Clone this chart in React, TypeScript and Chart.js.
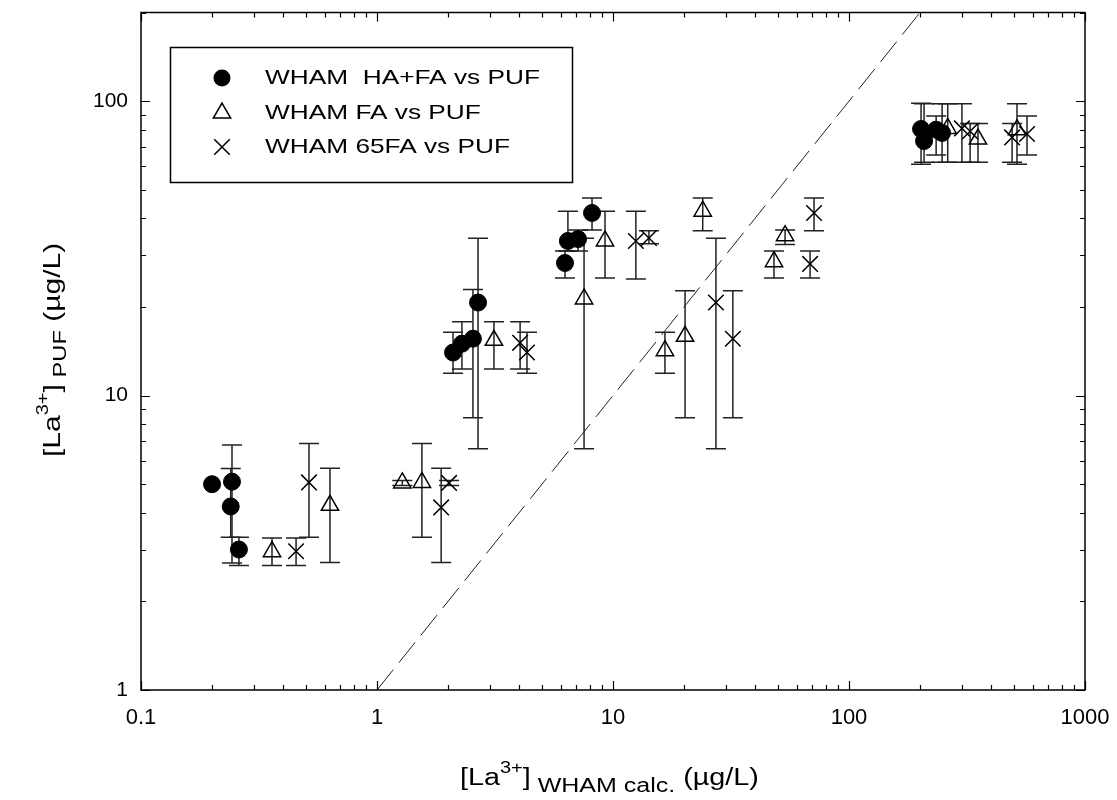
import React, { useEffect, useRef } from "react";
import { Chart, registerables } from "chart.js";

Chart.register(...registerables);

// ---------- data ----------
// WHAM HA+FA vs PUF (filled circles)
const haFaX = [0.2, 0.243, 0.24, 0.26, 2.1, 2.29, 2.55, 2.68, 6.26, 6.44, 7.11, 8.15, 202, 208, 234, 248];
const haFaY = [5.0, 5.1, 4.2, 3.0, 14.0, 15.0, 15.6, 20.7, 28.2, 33.5, 34.0, 41.7, 80.4, 73.2, 80, 78];
const haFaLow = [null, 2.7, 3.3, 2.65, 11.9, 12.3, 8.4, 6.6, 25.1, 31, 31, 36.5, 61, 62, 65.6, 62];
const haFaHigh = [null, 6.8, 5.65, 3.3, 16.4, 17.8, 22.9, 34.2, 31.0, 42.3, 36.5, 46.9, 98.4, 98, 89, 98];

// WHAM FA vs PUF (open triangles)
const faX = [0.359, 0.632, 1.28, 1.55, 3.13, 7.54, 9.25, 16.6, 20.2, 24.0, 48.1, 53.6, 262, 352, 515];
const faY = [2.95, 4.24, 5.05, 5.07, 15.4, 21.3, 33.5, 14.2, 15.9, 42.3, 28.5, 34.9, 80.8, 74.3, 80];
const faLow = [2.65, 2.71, 4.95, 3.3, 12.3, 6.6, 25.1, 11.9, 8.4, 36.3, 25.1, 32.6, 62, 62, 61];
const faHigh = [3.28, 5.66, 5.15, 6.88, 17.8, 34.2, 42.3, 16.4, 22.7, 46.9, 31, 36.5, 98, 84, 98];

// WHAM 65FA vs PUF (crosses)
const fa65X = [0.454, 0.515, 1.87, 2.02, 4.04, 4.32, 12.5, 14.2, 27.3, 32.2, 68.4, 71.1, 301, 326, 491, 568];
const fa65Y = [2.96, 5.07, 4.17, 5.05, 15.1, 14.0, 33.5, 34.3, 20.7, 15.6, 28.0, 41.7, 80.8, 79, 75.3, 77.3];
const fa65Low = [2.65, 3.3, 2.71, 4.95, 12.3, 11.9, 24.9, 32.8, 6.6, 8.4, 25.1, 36.3, 62, 62, 62, 65.6];
const fa65High = [3.28, 6.88, 5.66, 5.15, 17.8, 16.4, 42.3, 36.3, 34.2, 22.7, 31, 46.9, 98, 84, 84, 89];

// 1:1 line
const oneToOneX = [1, 200];
const oneToOneY = [1, 200];

const xTickLabels = [0.1, 1, 10, 100, 1000];
const yTickLabels = [1, 10, 100];
const seriesNames = ["WHAM  HA+FA vs PUF", "WHAM FA vs PUF", "WHAM 65FA vs PUF"];

// ---------- helpers ----------
const FONT = '"Liberation Sans", Arial, sans-serif';
const toPts = (xs: number[], ys: number[]) => xs.map((x, i) => ({ x, y: ys[i] }));

type Part = { t: string; size: number; dy: number };

// draws a run of text pieces with a horizontal stretch factor sx
function drawRich(ctx: CanvasRenderingContext2D, parts: Part[], x: number, y: number, sx: number) {
  ctx.save();
  ctx.translate(x, y);
  ctx.scale(sx, 1);
  let cx = 0;
  for (const p of parts) {
    ctx.font = `${p.size}px ${FONT}`;
    ctx.fillText(p.t, cx, p.dy);
    cx += ctx.measureText(p.t).width;
  }
  ctx.restore();
}

function drawMarker(ctx: CanvasRenderingContext2D, style: string, x: number, y: number) {
  ctx.save();
  ctx.strokeStyle = "#000";
  ctx.fillStyle = "#000";
  ctx.lineWidth = 1.5;
  ctx.beginPath();
  if (style === "circle") {
    ctx.arc(x, y, 8.5, 0, Math.PI * 2);
    ctx.fill();
  } else if (style === "triangle") {
    const r = 10;
    ctx.moveTo(x, y - r);
    ctx.lineTo(x + r * Math.sin((2 * Math.PI) / 3), y + r / 2);
    ctx.lineTo(x - r * Math.sin((2 * Math.PI) / 3), y + r / 2);
    ctx.closePath();
    ctx.stroke();
  } else {
    const d = 11 * Math.SQRT1_2;
    ctx.moveTo(x - d, y - d);
    ctx.lineTo(x + d, y + d);
    ctx.moveTo(x + d, y - d);
    ctx.lineTo(x - d, y + d);
    ctx.stroke();
  }
  ctx.restore();
}

const errorSets = [
  { xs: haFaX, lo: haFaLow, hi: haFaHigh },
  { xs: faX, lo: faLow, hi: faHigh },
  { xs: fa65X, lo: fa65Low, hi: fa65High },
];

const errorBarPlugin = {
  id: "errorBars",
  beforeDatasetsDraw(chart: any) {
    const { ctx, scales } = chart;
    const xs = scales.x;
    const ys = scales.y;
    ctx.save();
    ctx.strokeStyle = "#222";
    ctx.lineWidth = 1.5;
    const cap = 10;
    for (const s of errorSets) {
      s.xs.forEach((xv, i) => {
        const lo = s.lo[i];
        const hi = s.hi[i];
        if (lo == null || hi == null) return;
        const px = xs.getPixelForValue(xv);
        const pLo = ys.getPixelForValue(lo);
        const pHi = ys.getPixelForValue(hi);
        ctx.beginPath();
        ctx.moveTo(px, pLo);
        ctx.lineTo(px, pHi);
        ctx.moveTo(px - cap, pLo);
        ctx.lineTo(px + cap, pLo);
        ctx.moveTo(px - cap, pHi);
        ctx.lineTo(px + cap, pHi);
        ctx.stroke();
      });
    }
    ctx.restore();
  },
};

const frameTicksPlugin = {
  id: "frameTicks",
  afterDraw(chart: any) {
    const { ctx, chartArea, scales } = chart;
    const { left, right, top, bottom } = chartArea;
    const xs = scales.x;
    const ys = scales.y;
    ctx.save();
    ctx.strokeStyle = "#000";
    ctx.lineWidth = 1.5;
    ctx.strokeRect(left, top, right - left, bottom - top);
    ctx.lineWidth = 1.2;
    ctx.beginPath();
    for (let e = -1; e <= 3; e++) {
      for (let m = 1; m <= 9; m++) {
        const v = m * Math.pow(10, e);
        if (v < 0.1 - 1e-9 || v > 1000 + 1e-9) continue;
        const px = Math.round(xs.getPixelForValue(v)) + 0.5;
        const len = m === 1 ? 9 : 5;
        ctx.moveTo(px, bottom);
        ctx.lineTo(px, bottom - len);
        ctx.moveTo(px, top);
        ctx.lineTo(px, top + len);
      }
    }
    for (let e = 0; e <= 2; e++) {
      for (let m = 1; m <= 9; m++) {
        const v = m * Math.pow(10, e);
        if (v > 200 + 1e-9) continue;
        const py = Math.round(ys.getPixelForValue(v)) + 0.5;
        const len = m === 1 ? 9 : 5;
        ctx.moveTo(left, py);
        ctx.lineTo(left + len, py);
        ctx.moveTo(right, py);
        ctx.lineTo(right - len, py);
      }
    }
    ctx.stroke();
    ctx.restore();
  },
};

const STRETCH = 1.25;

const titlesLegendPlugin = {
  id: "titlesLegend",
  afterDraw(chart: any) {
    const { ctx } = chart;
    ctx.save();
    ctx.fillStyle = "#000";
    ctx.textBaseline = "alphabetic";
    ctx.textAlign = "left";
    // x title
    drawRich(
      ctx,
      [
        { t: "[La", size: 23, dy: 0 },
        { t: "3+", size: 16, dy: -12 },
        { t: "]", size: 23, dy: 0 },
        { t: " WHAM calc.", size: 20, dy: 7 },
        { t: " (µg/L)", size: 23, dy: 0 },
      ],
      460,
      785,
      STRETCH
    );
    // y title (rotated)
    ctx.save();
    ctx.translate(60, 457);
    ctx.rotate(-Math.PI / 2);
    drawRich(
      ctx,
      [
        { t: "[La", size: 24, dy: 0 },
        { t: "3+", size: 16, dy: -12 },
        { t: "]", size: 24, dy: 0 },
        { t: " PUF", size: 19, dy: 6 },
        { t: " (µg/L)", size: 24, dy: 0 },
      ],
      0,
      0,
      STRETCH
    );
    ctx.restore();

    // legend
    ctx.strokeStyle = "#000";
    ctx.lineWidth = 1.5;
    ctx.strokeRect(170.5, 47.5, 402, 135);
    const styles = ["circle", "triangle", "cross"];
    const rows = [78, 113, 147];
    ctx.textBaseline = "middle";
    styles.forEach((st, i) => {
      drawMarker(ctx, st, 222, rows[i]);
      drawRich(ctx, [{ t: seriesNames[i], size: 21, dy: 0 }], 265, rows[i], 1.25);
    });
    ctx.restore();
  },
};

export default function App() {
  const canvasRef = useRef<HTMLCanvasElement | null>(null);

  useEffect(() => {
    if (!canvasRef.current) return;
    const chart = new Chart(canvasRef.current, {
      type: "scatter",
      data: {
        datasets: [
          {
            label: "1:1",
            data: toPts(oneToOneX, oneToOneY),
            showLine: true,
            borderColor: "#222",
            borderWidth: 1,
            borderDash: [26, 9],
            pointRadius: 0,
          },
          {
            label: seriesNames[0],
            data: toPts(haFaX, haFaY),
            pointStyle: "circle",
            pointRadius: 8.5,
            backgroundColor: "#000",
            borderColor: "#000",
            borderWidth: 1,
          },
          {
            label: seriesNames[1],
            data: toPts(faX, faY),
            pointStyle: "triangle",
            pointRadius: 10,
            backgroundColor: "rgba(0,0,0,0)",
            borderColor: "#000",
            borderWidth: 1.5,
          },
          {
            label: seriesNames[2],
            data: toPts(fa65X, fa65Y),
            pointStyle: "crossRot",
            pointRadius: 11,
            backgroundColor: "rgba(0,0,0,0)",
            borderColor: "#000",
            borderWidth: 1.5,
          },
        ],
      },
      options: {
        animation: false,
        responsive: false,
        events: [],
        layout: { padding: { top: 11, right: 32, left: 0, bottom: 0 } },
        plugins: {
          legend: { display: false },
          tooltip: { enabled: false },
        },
        scales: {
          x: {
            type: "logarithmic",
            min: 0.1,
            max: 1000,
            grid: { display: false, drawTicks: false },
            border: { display: false },
            afterBuildTicks: (s: any) => {
              s.ticks = xTickLabels.map((v) => ({ value: v }));
            },
            afterFit: (s: any) => {
              s.height = 110;
              s.paddingLeft = 0;
              s.paddingRight = 0;
            },
            ticks: {
              autoSkip: false,
              maxRotation: 0,
              padding: 15,
              color: "#000",
              font: { family: FONT, size: 22 },
              callback: (v: any) => String(v),
            },
          },
          y: {
            type: "logarithmic",
            min: 1,
            max: 200,
            grid: { display: false, drawTicks: false },
            border: { display: false },
            afterBuildTicks: (s: any) => {
              s.ticks = yTickLabels.map((v) => ({ value: v }));
            },
            afterFit: (s: any) => {
              s.width = 141;
              s.paddingTop = 0;
              s.paddingBottom = 0;
            },
            ticks: {
              autoSkip: false,
              padding: 13,
              color: "#000",
              font: { family: FONT, size: 21 },
              callback: (v: any) => String(v),
            },
          },
        },
      },
      plugins: [errorBarPlugin, frameTicksPlugin, titlesLegendPlugin],
    } as any);
    return () => chart.destroy();
  }, []);

  return (
    <div style={{ position: "absolute", left: 0, top: 0, width: 1117, height: 800 }}>
      <canvas ref={canvasRef} width={1117} height={800} style={{ display: "block" }} />
    </div>
  );
}
